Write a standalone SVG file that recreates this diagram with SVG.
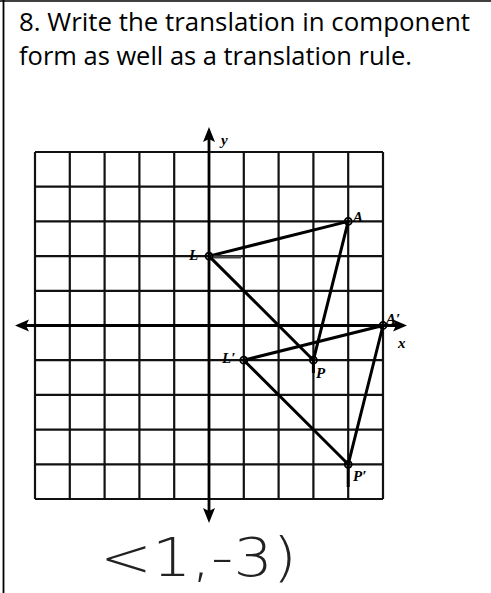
<svg xmlns="http://www.w3.org/2000/svg" width="491" height="593" viewBox="0 0 491 593">
<style>
.q{font-family:"Open Sans","Liberation Sans",sans-serif;font-size:26px;fill:#000}
.grid line{stroke:#111;stroke-width:2.2}
.axis{stroke:#000;stroke-width:2.8}
.edge{stroke:#000;stroke-width:3;stroke-linecap:round}
.pt{fill:none;stroke:#000;stroke-width:1.8}
.lbl{font-family:"Liberation Serif",serif;font-style:italic;font-weight:bold;font-size:15px;fill:#000}
.hand{font-family:"DejaVu Sans","Liberation Sans",sans-serif;font-size:54px;fill:#222;font-weight:300}
</style>
<rect width="491" height="593" fill="#fff"/>
<g id="frame">
<line x1="0" y1="1" x2="491" y2="1" stroke="#000" stroke-width="1.5"/>
<line x1="3.5" y1="0" x2="3.5" y2="593" stroke="#000" stroke-width="1.8"/>
</g>
<g id="question">
<text class="q" x="19" y="31" textLength="451" lengthAdjust="spacingAndGlyphs">8. Write the translation in component</text>
<text class="q" x="19" y="65" textLength="393" lengthAdjust="spacingAndGlyphs">form as well as a translation rule.</text>
</g>
<g id="grid" class="grid">
<line x1="35" y1="152" x2="35" y2="499"/>
<line x1="69.8" y1="152" x2="69.8" y2="499"/>
<line x1="104.6" y1="152" x2="104.6" y2="499"/>
<line x1="139.4" y1="152" x2="139.4" y2="499"/>
<line x1="174.2" y1="152" x2="174.2" y2="499"/>
<line x1="243.8" y1="152" x2="243.8" y2="499"/>
<line x1="278.6" y1="152" x2="278.6" y2="499"/>
<line x1="313.4" y1="152" x2="313.4" y2="499"/>
<line x1="348.2" y1="152" x2="348.2" y2="499"/>
<line x1="383" y1="152" x2="383" y2="499"/>
<line x1="35" y1="152" x2="383" y2="152"/>
<line x1="35" y1="186.7" x2="383" y2="186.7"/>
<line x1="35" y1="221.4" x2="383" y2="221.4"/>
<line x1="35" y1="256.1" x2="383" y2="256.1"/>
<line x1="35" y1="290.8" x2="383" y2="290.8"/>
<line x1="35" y1="360.2" x2="383" y2="360.2"/>
<line x1="35" y1="394.9" x2="383" y2="394.9"/>
<line x1="35" y1="429.6" x2="383" y2="429.6"/>
<line x1="35" y1="464.3" x2="383" y2="464.3"/>
<line x1="35" y1="499" x2="383" y2="499"/>
</g>
<g id="axes">
<line class="axis" x1="24" y1="325.5" x2="398" y2="325.5"/>
<line class="axis" x1="209" y1="138" x2="209" y2="512"/>
<polygon points="15,325.5 29,319.5 26,325.5 29,331.5"/>
<polygon points="407,325.5 393,319.5 396,325.5 393,331.5"/>
<polygon points="209,127 203,142 209,139 215,142"/>
<polygon points="209,523 203,508 209,511 215,508"/>
<text class="lbl" x="221" y="145">y</text>
<text class="lbl" x="398" y="348">x</text>
</g>
<g id="connectors">
<line class="edge" x1="209" y1="256.1" x2="348.2" y2="221.4" stroke-width="2.6"/>
<line class="edge" x1="348.2" y1="221.4" x2="313.4" y2="360.2" stroke-width="3.4"/>
<line class="edge" x1="209" y1="256.1" x2="313.4" y2="360.2"/>
<line class="edge" x1="243.8" y1="360.2" x2="383" y2="325.5" stroke-width="2.6"/>
<line class="edge" x1="383" y1="325.5" x2="348.2" y2="464.3" stroke-width="3.4"/>
<line class="edge" x1="243.8" y1="360.2" x2="348.2" y2="464.3"/>
<line x1="211" y1="257" x2="241" y2="257" stroke="#444" stroke-width="3"/>
<line x1="313.4" y1="360" x2="313.4" y2="373" stroke="#000" stroke-width="3"/>
<line x1="348.2" y1="464" x2="348.2" y2="487" stroke="#000" stroke-width="3"/>
</g>
<g id="node-L"><circle class="pt" cx="209" cy="256.1" r="3.5"/><text class="lbl" x="189" y="260">L</text></g>
<g id="node-A"><circle class="pt" cx="348.2" cy="221.4" r="3.5"/><text class="lbl" x="353" y="222" font-size="14">A</text></g>
<g id="node-P"><circle class="pt" cx="313.4" cy="360.2" r="3.5"/><text class="lbl" x="316" y="378" font-size="12">P</text></g>
<g id="node-L-prime"><circle class="pt" cx="243.8" cy="360.2" r="3.5"/><text class="lbl" x="222" y="363">L′</text></g>
<g id="node-A-prime"><circle class="pt" cx="383" cy="325.5" r="3.5"/><text class="lbl" x="386" y="324" font-size="16">A′</text></g>
<g id="node-P-prime"><circle class="pt" cx="348.2" cy="464.3" r="3.5"/><text class="lbl" x="353" y="481" font-size="11">P′</text></g>
<g id="answer">
<text class="hand" x="100" y="576" textLength="197" lengthAdjust="spacingAndGlyphs">&lt;1,-3)</text>
</g>
</svg>
